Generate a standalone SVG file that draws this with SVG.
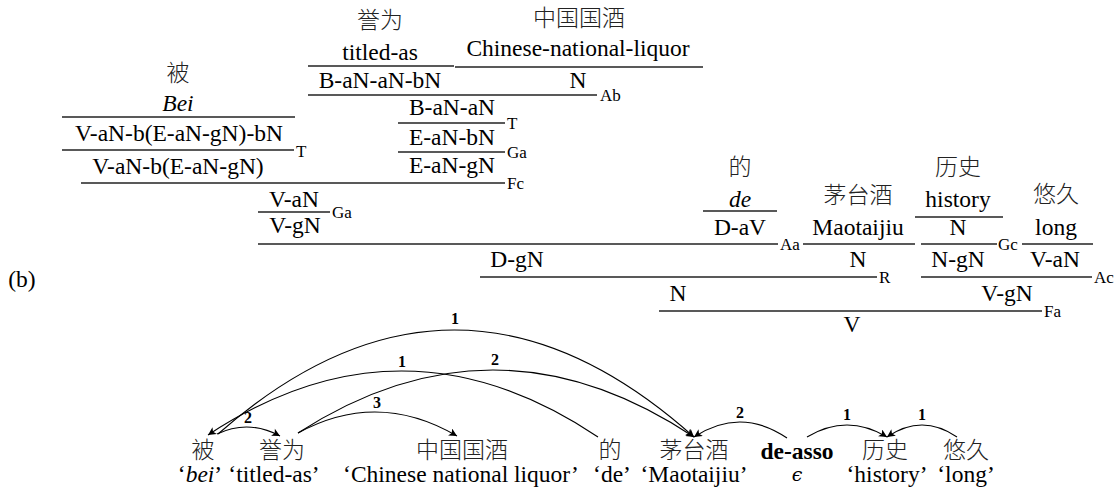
<svg xmlns="http://www.w3.org/2000/svg" width="1120" height="493" viewBox="0 0 1120 493">
<style>
.t{font-family:"Liberation Serif","Times New Roman",serif;font-size:23.5px;text-anchor:middle;fill:#000}
.c{font-family:"Noto Sans CJK SC","Noto Sans CJK TC",sans-serif;font-size:23px;font-weight:300;text-anchor:middle;fill:#222}
.i{font-style:italic}
.bd{font-weight:bold}
.lab{font-family:"Liberation Serif","Times New Roman",serif;font-size:17px;fill:#000}
.al{font-family:"Liberation Serif","Times New Roman",serif;font-size:16px;font-weight:bold;text-anchor:middle;fill:#000}
.ln{stroke:#222;stroke-width:1.3}
.arc{fill:none;stroke:#000;stroke-width:1.1}
.eps{font-family:"DejaVu Serif","Liberation Serif",serif;font-style:italic;font-size:19px;text-anchor:middle}
</style>
<defs>
<marker id="ah" viewBox="0 0 10 10" refX="10" refY="5" markerWidth="9" markerHeight="8" markerUnits="userSpaceOnUse" orient="auto">
<path d="M0,0 L10,5 L0,10 L2.5,5 z" fill="#000"/>
</marker>
</defs>
<rect width="1120" height="493" fill="#fff"/>

<text class="t" x="22" y="287">(b)</text>

<g id="tree">
<g id="lex-bei">
<text class="c" x="178" y="81">被</text>
<text class="t i" x="178" y="111">Bei</text>
<line class="ln" x1="62" y1="117" x2="295" y2="117"/>
<text class="t" x="179" y="141">V-aN-b(E-aN-gN)-bN</text>
</g>
<g id="rule-T1">
<line class="ln" x1="62" y1="150" x2="294" y2="150"/>
<text class="lab" x="296" y="157">T</text>
<text class="t" x="178" y="174">V-aN-b(E-aN-gN)</text>
</g>
<g id="lex-yuwei">
<text class="c" x="380" y="28">誉为</text>
<text class="t" x="380" y="60">titled-as</text>
<line class="ln" x1="308" y1="66" x2="454" y2="66"/>
<text class="t" x="380" y="88">B-aN-aN-bN</text>
</g>
<g id="lex-guojiu">
<text class="c" x="579" y="26">中国国酒</text>
<text class="t" x="578" y="56">Chinese-national-liquor</text>
<line class="ln" x1="455" y1="67" x2="703" y2="67"/>
<text class="t" x="578" y="88">N</text>
</g>
<g id="rule-Ab">
<line class="ln" x1="308" y1="95" x2="597" y2="95"/>
<text class="lab" x="600" y="101">Ab</text>
<text class="t" x="452" y="115">B-aN-aN</text>
</g>
<g id="rule-T2">
<line class="ln" x1="398" y1="123" x2="505" y2="123"/>
<text class="lab" x="507" y="129">T</text>
<text class="t" x="452" y="145">E-aN-bN</text>
</g>
<g id="rule-Ga1">
<line class="ln" x1="398" y1="152" x2="505" y2="152"/>
<text class="lab" x="507" y="158">Ga</text>
<text class="t" x="452" y="173">E-aN-gN</text>
</g>
<g id="rule-Fc">
<line class="ln" x1="81" y1="183" x2="505" y2="183"/>
<text class="lab" x="507" y="189">Fc</text>
<text class="t" x="294" y="207">V-aN</text>
</g>
<g id="rule-Ga2">
<line class="ln" x1="258" y1="212" x2="330" y2="212"/>
<text class="lab" x="332" y="218">Ga</text>
<text class="t" x="295" y="233">V-gN</text>
</g>
<g id="lex-de">
<text class="c" x="740" y="175">的</text>
<text class="t i" x="740" y="207">de</text>
<line class="ln" x1="703" y1="211" x2="777" y2="211"/>
<text class="t" x="740" y="235">D-aV</text>
</g>
<g id="rule-Aa">
<line class="ln" x1="258" y1="244" x2="778" y2="244"/>
<text class="lab" x="780" y="250">Aa</text>
<text class="t" x="517" y="267">D-gN</text>
</g>
<g id="lex-maotai">
<text class="c" x="858" y="203">茅台酒</text>
<text class="t" x="858" y="235">Maotaijiu</text>
<line class="ln" x1="803" y1="244" x2="915" y2="244"/>
<text class="t" x="858" y="267">N</text>
</g>
<g id="rule-R">
<line class="ln" x1="480" y1="277" x2="877" y2="277"/>
<text class="lab" x="879" y="283">R</text>
<text class="t" x="678" y="301">N</text>
</g>
<g id="lex-lishi">
<text class="c" x="958" y="175">历史</text>
<text class="t" x="958" y="207">history</text>
<line class="ln" x1="915" y1="217" x2="1003" y2="217"/>
<text class="t" x="958" y="235">N</text>
</g>
<g id="rule-Gc">
<line class="ln" x1="921" y1="244" x2="997" y2="244"/>
<text class="lab" x="998" y="250">Gc</text>
<text class="t" x="958" y="267">N-gN</text>
</g>
<g id="lex-youjiu">
<text class="c" x="1056" y="202">悠久</text>
<text class="t" x="1056" y="235">long</text>
<line class="ln" x1="1022" y1="244" x2="1093" y2="244"/>
<text class="t" x="1055" y="267">V-aN</text>
</g>
<g id="rule-Ac">
<line class="ln" x1="921" y1="277" x2="1092" y2="277"/>
<text class="lab" x="1094" y="283">Ac</text>
<text class="t" x="1007" y="301">V-gN</text>
</g>
<g id="rule-Fa">
<line class="ln" x1="659" y1="311" x2="1042" y2="311"/>
<text class="lab" x="1044" y="317">Fa</text>
<text class="t" x="852" y="332">V</text>
</g>
</g>

<g id="dep-words">
<g id="w-bei"><text class="c" x="203" y="458">被</text><text class="t" x="200" y="482">‘<tspan class="i">bei</tspan>’</text></g>
<g id="w-yuwei"><text class="c" x="282" y="458">誉为</text><text class="t" x="274" y="482">‘titled-as’</text></g>
<g id="w-guojiu"><text class="c" x="462" y="458">中国国酒</text><text class="t" x="461" y="482">‘Chinese national liquor’</text></g>
<g id="w-de"><text class="c" x="610" y="458">的</text><text class="t" x="612" y="482">‘de’</text></g>
<g id="w-maotai"><text class="c" x="694" y="458">茅台酒</text><text class="t" x="694" y="482">‘Maotaijiu’</text></g>
<g id="w-deasso"><text class="t bd" x="797" y="459">de-asso</text><text class="eps" x="797" y="481">ϵ</text></g>
<g id="w-lishi"><text class="c" x="885" y="458">历史</text><text class="t" x="887" y="482">‘history’</text></g>
<g id="w-youjiu"><text class="c" x="966" y="458">悠久</text><text class="t" x="966" y="482">‘long’</text></g>
</g>

<g id="connectors">
<path class="arc" d="M218,434 Q456,224.5 694,437" marker-end="url(#ah)"/>
<path class="arc" d="M598,437 Q403,306 208,435" marker-end="url(#ah)"/>
<path class="arc" d="M298,433 Q496,305 694,437" marker-end="url(#ah)"/>
<path class="arc" d="M298,433 Q377.5,389.5 457,436" marker-end="url(#ah)"/>
<path class="arc" d="M217,434 Q248.5,419 280,436" marker-end="url(#ah)"/>
<path class="arc" d="M787,438 Q740.5,406.5 694,437" marker-end="url(#ah)"/>
<path class="arc" d="M807,437 Q847,413 887,437" marker-end="url(#ah)"/>
<path class="arc" d="M957,437 Q922,413 887,437" marker-end="url(#ah)"/>
<text class="al" x="455" y="324">1</text>
<text class="al" x="402" y="367">1</text>
<text class="al" x="495" y="365">2</text>
<text class="al" x="377" y="408">3</text>
<text class="al" x="248" y="423">2</text>
<text class="al" x="740" y="418">2</text>
<text class="al" x="847" y="420">1</text>
<text class="al" x="922" y="420">1</text>
</g>
</svg>
